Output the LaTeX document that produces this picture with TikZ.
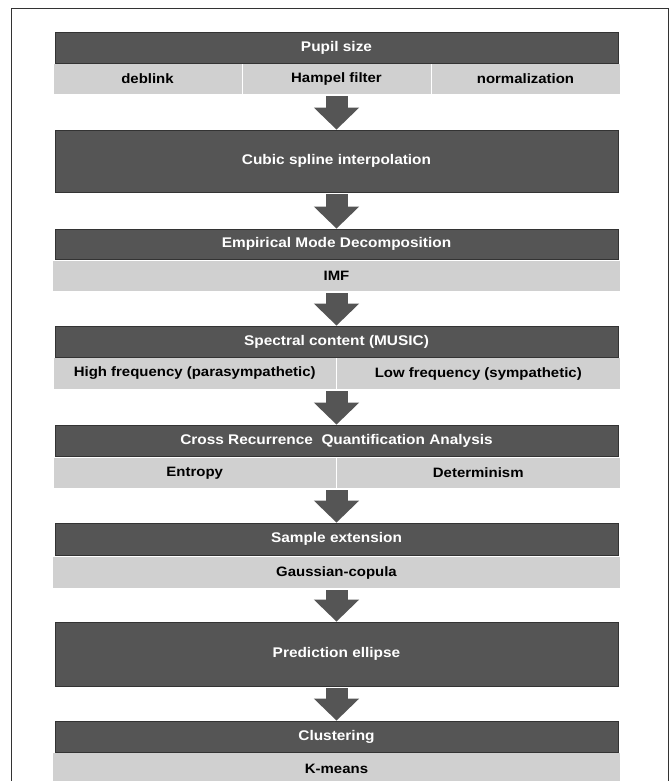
\documentclass[tikz,border=0pt]{standalone}
\usepackage{fontspec}
\setmainfont[FakeStretch=1.1]{Liberation Sans}
\usetikzlibrary{arrows.meta}
\definecolor{boxdark}{HTML}{555555}
\definecolor{boxedge}{HTML}{333333}
\definecolor{boxlight}{HTML}{D0D0D0}
\tikzset{
  stage/.style={draw=boxedge, line width=0.8pt, fill=boxdark, text=white, inner sep=0pt,
    minimum width=563pt, font=\bfseries\fontsize{14}{16}\selectfont},
  detail/.style={fill=boxlight, text=black, inner sep=0pt,
    font=\bfseries\fontsize{13.6}{15}\selectfont},
  flow/.style={boxdark, line width=22pt, shorten <=2pt,
    -{Triangle[width=44pt,length=22pt]}}
}
\begin{document}
\begin{tikzpicture}[x=1pt, y=-1pt]
\useasboundingbox (0,0) rectangle (670,781);
\draw[boxedge, line width=1pt] (11,790) -- (11,9) -- (668,9) -- (668,790);

\node[stage, minimum height=31pt] (pupil) at (336.5,47.5) {Pupil size};
\node[detail, minimum width=188pt, minimum height=30pt] (deblink) at (147.5,79) {deblink};
\node[detail, minimum width=188pt, minimum height=30pt] (hampel) at (336.5,79) {Hampel filter};
\node[detail, minimum width=188pt, minimum height=30pt] (norm) at (525.5,79) {normalization};

\node[stage, minimum height=62pt] (spline) at (336.5,161) {Cubic spline interpolation};

\node[stage, minimum height=30pt] (emd) at (336.5,244) {Empirical Mode Decomposition};
\node[detail, minimum width=567pt, minimum height=30pt] (imf) at (336.5,276) {IMF};

\node[stage, minimum height=31pt] (music) at (336.5,341.5) {Spectral content (MUSIC)};
\node[detail, minimum width=282.5pt, minimum height=31pt] (hf) at (194.75,373.5) {High frequency (parasympathetic)};
\node[detail, minimum width=282.5pt, minimum height=31pt] (lf) at (478.25,373.5) {Low frequency (sympathetic)};

\node[stage, minimum height=31pt] (crqa) at (336.5,440.5) {Cross Recurrence\ \ Quantification Analysis};
\node[detail, minimum width=282.5pt, minimum height=30pt] (entropy) at (194.75,473) {Entropy};
\node[detail, minimum width=282.5pt, minimum height=30pt] (determ) at (478.25,473) {Determinism};

\node[stage, minimum height=32pt] (sample) at (336.5,539) {Sample extension};
\node[detail, minimum width=567pt, minimum height=31pt] (copula) at (336.5,572.5) {Gaussian-copula};

\node[stage, minimum height=64pt] (ellipse) at (336.5,654) {Prediction ellipse};

\node[stage, minimum height=31pt] (cluster) at (336.5,736.5) {Clustering};
\node[detail, minimum width=567pt, minimum height=32pt] (kmeans) at (336.5,769) {K-means};

\draw[flow] (hampel.south) -- (spline.north);
\draw[flow] (spline.south) -- (emd.north);
\draw[flow] (imf.south) -- (music.north);
\draw[flow] (music.north |- hf.south) -- (crqa.north);
\draw[flow] (crqa.north |- entropy.south) -- (sample.north);
\draw[flow] (copula.south) -- (ellipse.north);
\draw[flow] (ellipse.south) -- (cluster.north);
\end{tikzpicture}
\end{document}
